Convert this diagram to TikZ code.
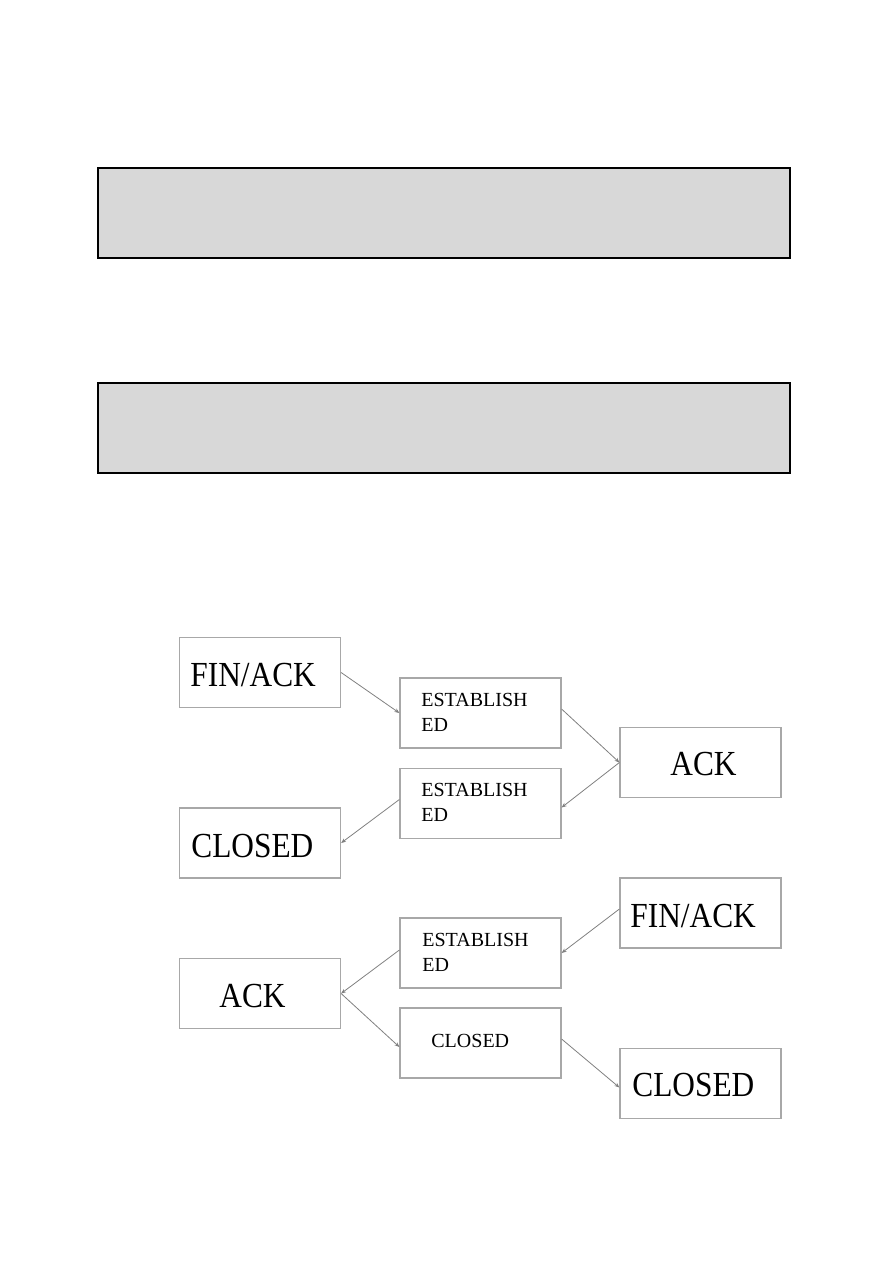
\documentclass[tikz,border=0pt]{standalone}
\usepackage{fontspec}
\setmainfont{Liberation Serif}
\usetikzlibrary{arrows.meta,calc}
\definecolor{boxgray}{HTML}{D8D8D8}
\definecolor{edgegray}{HTML}{A8A8A8}
\definecolor{linegray}{HTML}{808080}
\newcommand{\tallbig}[1]{\scalebox{0.98}[1.1]{#1}}
\tikzset{
  graybox/.style={draw=black, line width=0.8pt, fill=boxgray, minimum width=346pt, minimum height=45pt, inner sep=0pt},
  flowbox/.style={draw=edgegray, line width=0.6pt, fill=white, minimum width=80.5pt, minimum height=35pt, inner sep=0pt},
  bigtxt/.style={font=\fontsize{16}{19}\selectfont, inner sep=0pt, anchor=base west},
  smalltxt/.style={font=\fontsize{10}{12.5}\selectfont, inner sep=0pt, align=left, anchor=west},
  smallone/.style={font=\fontsize{10}{12.5}\selectfont, inner sep=0pt, anchor=base west},
  conn/.style={draw=linegray, line width=0.4pt, -{Stealth[length=2.5pt,width=2pt]}}
}
\begin{document}
\begin{tikzpicture}[x=0.5pt,y=-0.5pt]
\useasboundingbox (0,0) rectangle (893,1263);
% top gray boxes
\node[graybox] (g1) at (444,213) {};
\node[graybox] (g2) at (444,428) {};
% flow boxes
\node[flowbox] (fa1) at (260,672.5) {};
\node[flowbox] (e1) at (480.5,713) {};
\node[flowbox] (e2) at (480.5,803.5) {};
\node[flowbox] (c1) at (260,843) {};
\node[flowbox] (ack1) at (700.5,762.5) {};
\node[flowbox] (fa2) at (700.5,913) {};
\node[flowbox] (e3) at (480.5,953) {};
\node[flowbox] (ack2) at (260,993.5) {};
\node[flowbox] (c2) at (480.5,1043) {};
\node[flowbox] (c3) at (700.5,1083.5) {};
% texts
\node[bigtxt] (tfa1) at (190,686) {\tallbig{FIN/ACK}};
\node[smalltxt] (te1) at (421,712) {ESTABLISH\\ED};
\node[smalltxt] (te2) at (421,802.5) {ESTABLISH\\ED};
\node[bigtxt] (tc1) at (191,857) {\tallbig{CLOSED}};
\node[bigtxt] (tack1) at (670,775) {\tallbig{ACK}};
\node[bigtxt] (tfa2) at (630,927) {\tallbig{FIN/ACK}};
\node[smalltxt] (te3) at (422,952) {ESTABLISH\\ED};
\node[bigtxt] (tack2) at (219,1007) {\tallbig{ACK}};
\node[smallone] (tc2) at (431,1047) {CLOSED};
\node[bigtxt] (tc3) at (632,1096) {\tallbig{CLOSED}};
% connectors
\draw[conn] (fa1.east) -- (e1.west);
\draw[conn] ([yshift=2pt]e1.east) -- (ack1.west);
\draw[conn] (ack1.west) -- ([yshift=-2pt]e2.east);
\draw[conn] ([yshift=2pt]e2.west) -- (c1.east);
\draw[conn] ([yshift=2pt]fa2.west) -- (e3.east);
\draw[conn] ([yshift=1.5pt]e3.west) -- (ack2.east);
\draw[conn] (ack2.east) -- ([yshift=-2pt]c2.west);
\draw[conn] ([yshift=2pt]c2.east) -- ([yshift=-2pt]c3.west);
\end{tikzpicture}
\end{document}
